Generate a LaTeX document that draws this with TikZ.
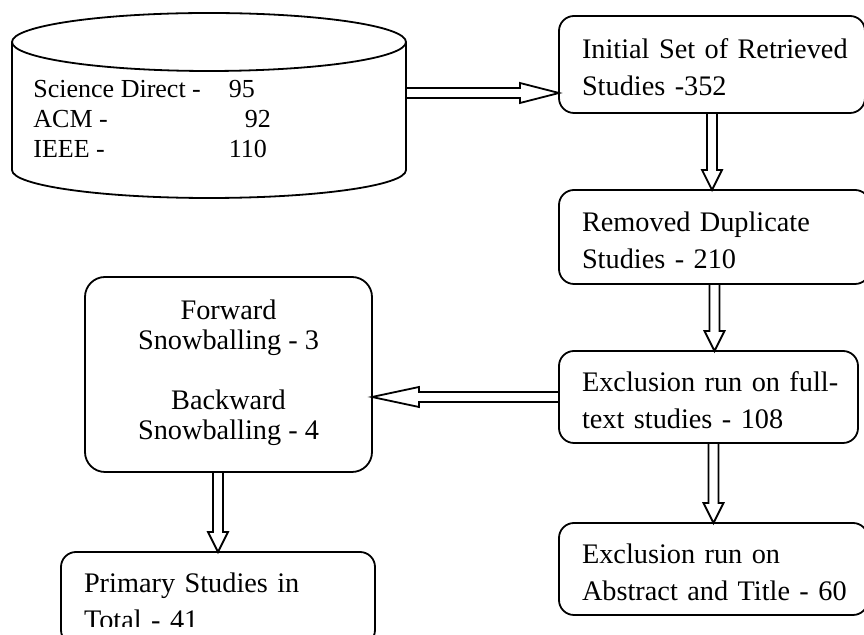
\documentclass[tikz,border=0pt]{standalone}
\usepackage{fontspec}
\setmainfont{Liberation Serif}
\usetikzlibrary{positioning}
\usetikzlibrary{calc}
\tikzset{
  stepbox/.style={draw,line width=0.9pt,rounded corners=7.5pt,align=left,inner xsep=11.5pt,inner ysep=0pt,outer sep=0pt,
    anchor=north west,font=\fontsize{14.15}{18.5}\selectfont,execute at begin node=\strut},
  snowbox/.style={stepbox,align=center,rounded corners=10pt,font=\fontsize{14.15}{15}\selectfont},
  dbtext/.style={anchor=base west,inner sep=0pt,font=\fontsize{13}{15}\selectfont},
  dbline/.style={line width=0.9pt},
  hollow/.style={line width=0.9pt,line join=miter},
  downarrow/.style={hollow,to path={($(\tikztostart)+(-5,0)$) -- ($(\tikztotarget)+(-5,20)$) -- ($(\tikztotarget)+(-10,20)$)
    -- (\tikztotarget) -- ($(\tikztotarget)+(10,20)$) -- ($(\tikztotarget)+(5,20)$) -- ($(\tikztostart)+(5,0)$)}},
  leftarrow/.style={hollow,to path={($(\tikztostart)+(0,5)$) -- ($(\tikztotarget)+(47,5)$) -- ($(\tikztotarget)+(47,10)$)
    -- (\tikztotarget) -- ($(\tikztotarget)+(47,-10)$) -- ($(\tikztotarget)+(47,-5)$) -- ($(\tikztostart)+(0,-5)$)}},
  rightarrow/.style={hollow,to path={($(\tikztostart)+(0,5)$) -- ($(\tikztotarget)+(-39,5)$) -- ($(\tikztotarget)+(-39,10)$)
    -- (\tikztotarget) -- ($(\tikztotarget)+(-39,-10)$) -- ($(\tikztotarget)+(-39,-5)$) -- ($(\tikztostart)+(0,-5)$)}}
}

\begin{document}
\begin{tikzpicture}[x=0.5pt,y=0.5pt]
  \useasboundingbox (0,0) rectangle (864,-635);
  \clip (0,0) rectangle (864,-635);

  % database
  \draw[dbline] (12,-42) -- (12,-170) arc[start angle=180,end angle=360,x radius=98.5pt,y radius=14pt] -- (406,-42);
  \draw[dbline] (209,-42) ellipse[x radius=98.5pt,y radius=14.5pt];
  \node[dbtext] (db) at (33,-98) {\begin{tabular}[t]{@{}l@{\hspace{14pt}}l@{}}
    Science Direct - & 95\\
    ACM - & \hspace{8pt}92\\
    IEEE - & 110
  \end{tabular}};
  \coordinate (dbout) at (406,-93);

  % right column
  \node[stepbox,minimum width=153pt,minimum height=48.5pt,text width=130pt] (retrieved) at (559,-16)
    {\mbox{Initial Set of Retrieved}\\Studies -352};
  \node[stepbox,below=38.5pt of retrieved.south west,anchor=north west,minimum width=155.5pt,minimum height=47pt,text width=132.5pt] (duplicates)
    {\mbox{Removed Duplicate}\\Studies - 210};
  \node[stepbox,below=33.5pt of duplicates.south west,anchor=north west,minimum width=149.5pt,minimum height=46pt,text width=126.5pt] (fulltext)
    {\mbox{Exclusion run on full-}\\text studies - 108};
  \node[stepbox,below=40pt of fulltext.south west,anchor=north west,minimum width=154.5pt,minimum height=46pt,text width=131.5pt] (abstract)
    {Exclusion run on\\\mbox{Abstract and Title - 60}};

  % left column
  \node[snowbox,minimum width=143.5pt,minimum height=97.5pt] (snow) at (85,-277)
    {Forward\\Snowballing - 3\\[15pt]Backward\\Snowballing - 4};
  \begin{scope}
    \clip (0,0) rectangle (864,-627);
    \node[stepbox,draw=none,minimum width=157pt,minimum height=46.5pt,text width=134pt] (primary) at (61,-552)
      {\mbox{Primary Studies in}\\Total - 41};
  \end{scope}
  \draw[line width=0.9pt,rounded corners=7.5pt] (primary.north west) rectangle (primary.south east);

  % connectors
  \draw[rightarrow] (dbout) to (dbout -| retrieved.west);
  \draw[downarrow] (retrieved.south) to (retrieved.south |- duplicates.north);
  \draw[downarrow] (duplicates.south) to (duplicates.south |- fulltext.north);
  \draw[downarrow] (abstract.north |- fulltext.south) to (abstract.north);
  \draw[leftarrow] (fulltext.west) to (fulltext.west -| snow.east);
  \draw[downarrow] (primary.north |- snow.south) to (primary.north);
\end{tikzpicture}
\end{document}
